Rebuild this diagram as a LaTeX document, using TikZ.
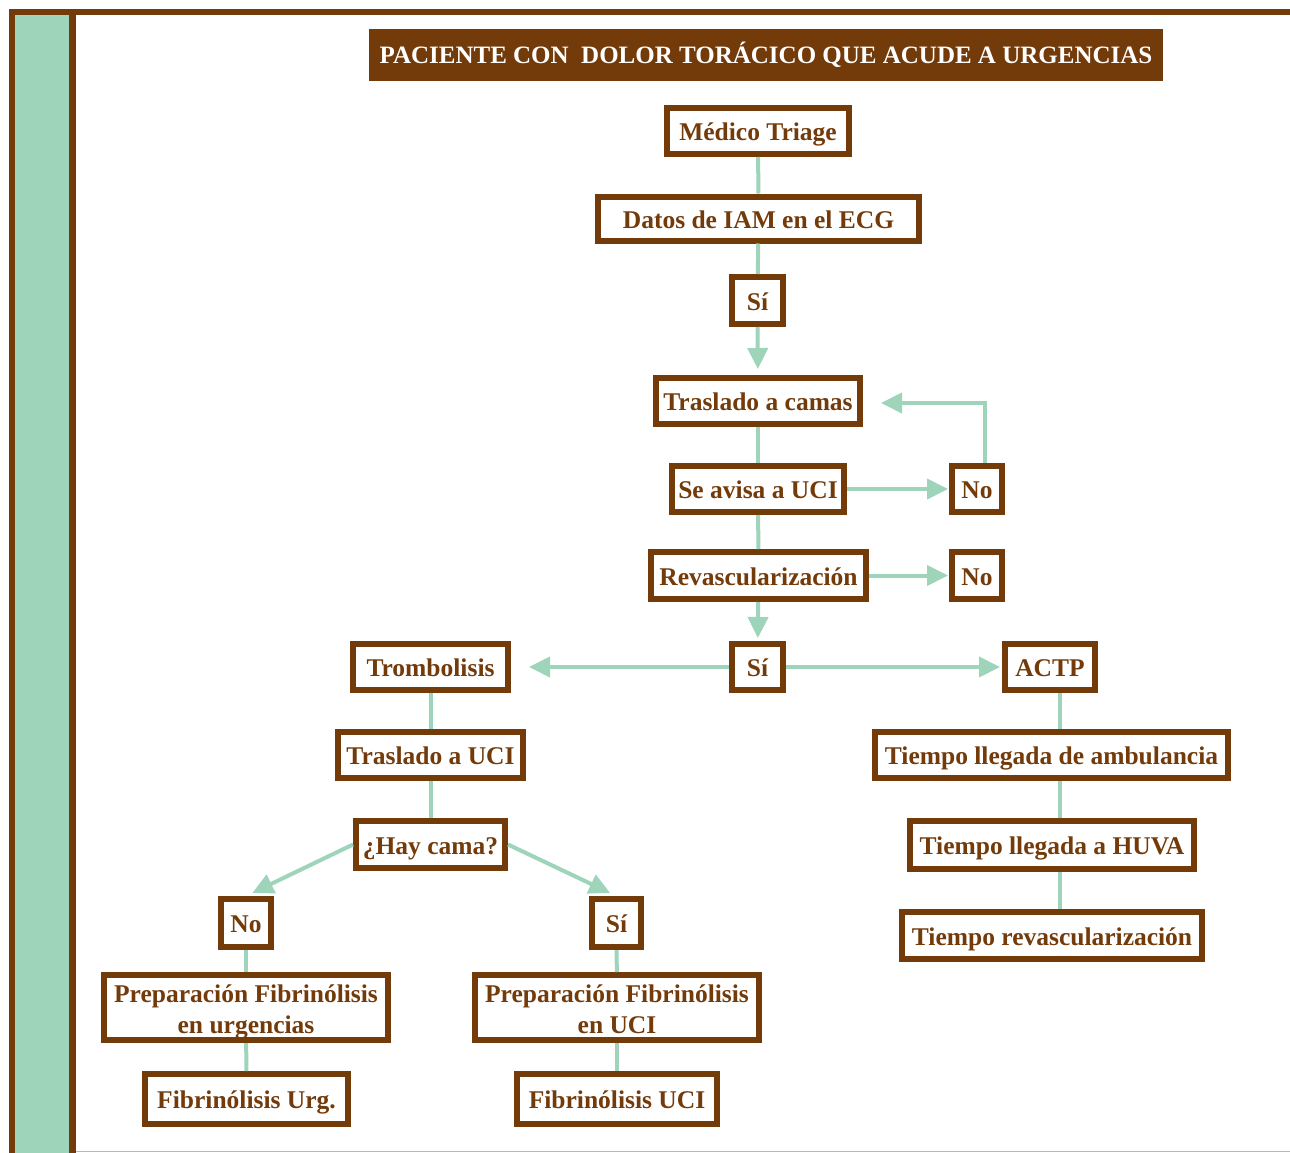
\documentclass[tikz,border=0pt]{standalone}
\usepackage{fontspec}
\setmainfont{Liberation Serif}
\usetikzlibrary{arrows.meta}
\definecolor{brownc}{HTML}{733A0A}
\definecolor{greenc}{HTML}{9ED5BA}
\definecolor{tanc}{HTML}{C9B49E}
\begin{document}
\begin{tikzpicture}[x=1pt,y=-1pt,
  box/.style={draw=brownc, line width=6pt, fill=white, text=brownc,
    font=\fontsize{25.5}{31}\selectfont\bfseries, inner sep=0pt, align=center,
    text height=21pt, text depth=1.5pt},
  twobox/.style={box, text height=53.5pt, text depth=1.5pt},
  link/.style={draw=greenc, line width=4pt},
  arr/.style={draw=greenc, line width=4pt,
    -{Triangle[length=21pt,width=20pt]}},
]
\useasboundingbox (0,0) rectangle (1290,1153);
% frame
\fill[white] (0,0) rectangle (1290,1153);
\fill[brownc] (9,9) rectangle (76,1153);
\fill[brownc] (9,9) rectangle (1290,15);
\fill[greenc] (15,15) rectangle (69,1153);
\draw[tanc, line width=1.5pt] (76,1151.5) -- (1290,1151.5);

% title
\node[fill=brownc, minimum width=794pt, minimum height=52pt, inner sep=0pt,
  text=white, font=\fontsize{25}{30}\selectfont\bfseries] (title) at (766,55)
  {PACIENTE CON\ \ DOLOR TORÁCICO QUE ACUDE A URGENCIAS};

% nodes
\node[box, minimum width=182pt, minimum height=46pt] (triage) at (758,131) {Médico Triage};
\node[box, minimum width=321pt, minimum height=44pt] (datos) at (758.5,218.5) {Datos de IAM en el ECG};
\node[box, minimum width=51pt, minimum height=47pt] (si1) at (757.5,300.5) {Sí};
\node[box, minimum width=204pt, minimum height=46pt] (camas) at (758,401) {Traslado a camas};
\node[box, minimum width=172pt, minimum height=46pt] (avisa) at (758,489) {Se avisa a UCI};
\node[box, minimum width=50pt, minimum height=46pt] (no1) at (977,489) {No};
\node[box, minimum width=215pt, minimum height=47pt] (revasc) at (758.5,575.5) {Revascularización};
\node[box, minimum width=50pt, minimum height=47pt] (no2) at (977,575.5) {No};
\node[box, minimum width=51pt, minimum height=46pt] (si2) at (757.5,667) {Sí};
\node[box, minimum width=155pt, minimum height=46pt] (tromb) at (430.5,667) {Trombolisis};
\node[box, minimum width=90pt, minimum height=46pt] (actp) at (1050,667) {ACTP};
\node[box, minimum width=185pt, minimum height=46pt] (tuci) at (430.5,755) {Traslado a UCI};
\node[box, minimum width=149pt, minimum height=47pt] (hay) at (430.5,844.5) {¿Hay cama?};
\node[box, minimum width=50pt, minimum height=48pt] (no3) at (246,923) {No};
\node[box, minimum width=49pt, minimum height=48pt] (si3) at (616.5,923) {Sí};
\node[twobox, minimum width=284pt, minimum height=65pt] (prepu) at (246,1007.5) {Preparación Fibrinólisis\\en urgencias};
\node[twobox, minimum width=284pt, minimum height=65pt] (prepuci) at (617,1007.5) {Preparación Fibrinólisis\\en UCI};
\node[box, minimum width=203pt, minimum height=50pt] (fibu) at (246.5,1099) {Fibrinólisis Urg.};
\node[box, minimum width=200pt, minimum height=50pt] (fibuci) at (617,1099) {Fibrinólisis UCI};
\node[box, minimum width=353pt, minimum height=46pt] (amb) at (1051.5,755) {Tiempo llegada de ambulancia};
\node[box, minimum width=284pt, minimum height=48pt] (huva) at (1052,845) {Tiempo llegada a HUVA};
\node[box, minimum width=300pt, minimum height=47pt] (trev) at (1052,935.5) {Tiempo revascularización};
\coordinate (rx) at (1060,0);

% plain links
\draw[link] (triage) -- (datos);
\draw[link] (datos) -- (si1);
\draw[link] (camas) -- (avisa);
\draw[link] (avisa) -- (revasc);
\draw[link] (tromb) -- (tuci);
\draw[link] (tuci) -- (hay);
\draw[link] (no3) -- (prepu);
\draw[link] (prepu) -- (fibu);
\draw[link] (si3) -- (prepuci);
\draw[link] (prepuci) -- (fibuci);
\draw[link] (actp.south -| rx) -- (amb.north -| rx);
\draw[link] (amb.south -| rx) -- (huva.north -| rx);
\draw[link] (huva.south -| rx) -- (trev.north -| rx);

% arrows
\draw[arr, shorten >=6pt] (si1) -- (camas);
\draw[arr, shorten >=1pt] (avisa) -- (no1);
\draw[arr, shorten >=18pt] ([xshift=8pt]no1.north) |- ([yshift=-2pt]camas.east);
\draw[arr, shorten >=1pt] (revasc.east) -- (no2.west);
\draw[arr, shorten >=3pt] (revasc) -- (si2);
\draw[arr, shorten >=18pt] (si2) -- (tromb);
\draw[arr, shorten >=2pt] (si2) -- (actp);
\draw[arr, shorten >=7pt] (hay.west) -- (no3.north);
\draw[arr, shorten >=7pt] (hay.east) -- (si3.north);
\end{tikzpicture}
\end{document}
